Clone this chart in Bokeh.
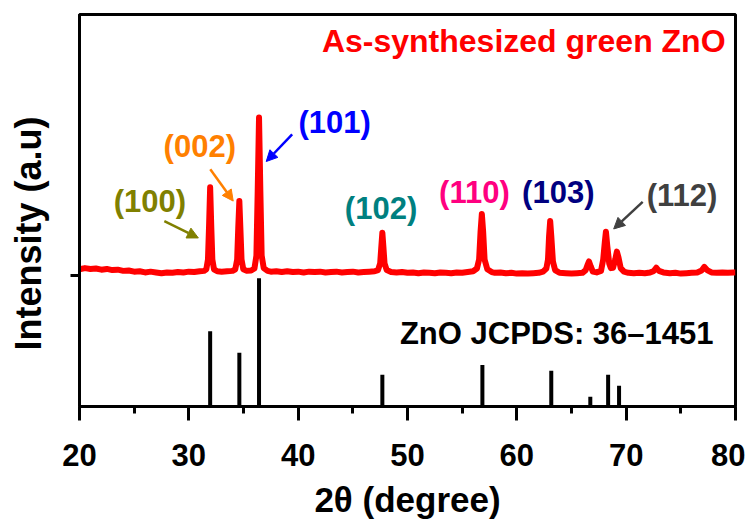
from bokeh.plotting import figure
from bokeh.models import Range1d, FixedTicker, Label, Arrow, NormalHead, Title, LinearAxis
from bokeh.embed import file_html
from bokeh.resources import INLINE

# ---- data ----
# measured pattern of the as-synthesized sample (2theta in degrees, intensity in a.u.)
xrd_x = [20.0, 20.5, 21.0, 21.5, 22.0, 22.5, 23.0, 23.5, 24.0, 24.5, 25.0, 25.5, 26.0, 26.5,
         27.0, 27.5, 28.0, 28.5, 29.0, 29.5, 30.0, 30.5, 31.0, 31.4,
         31.6, 31.75, 31.85, 31.95, 32.05, 32.15, 32.3, 32.6, 33.0, 33.5, 34.0,
         34.25, 34.42, 34.52, 34.62, 34.72, 34.82, 34.98, 35.3, 35.7,
         36.0, 36.18, 36.3, 36.42, 36.54, 36.66, 36.85, 37.2, 37.5, 38.0,
         38.5, 39.0, 39.5, 40.0, 40.5, 41.0, 41.5, 42.0, 42.5, 43.0, 43.5, 44.0, 44.5, 45.0,
         45.5, 46.0, 46.5, 47.0, 47.3,
         47.5, 47.6, 47.7, 47.8, 47.9, 48.1, 48.5,
         49.0, 49.5, 50.0, 50.5, 51.0, 51.5, 52.0, 52.5, 53.0, 53.5, 54.0, 54.5, 55.0, 55.5,
         56.0, 56.35,
         56.55, 56.68, 56.8, 56.92, 57.05, 57.3, 57.7,
         58.0, 58.5, 59.0, 59.5, 60.0, 60.5, 61.0, 61.5, 62.0, 62.4, 62.7,
         62.85, 62.95, 63.05, 63.15, 63.3, 63.5, 63.9,
         64.5, 65.0, 65.5, 66.0, 66.3,
         66.45, 66.6, 66.75, 66.95, 67.3, 67.7, 67.9,
         68.05, 68.15, 68.27, 68.45, 68.6, 68.8, 69.0, 69.15, 69.3, 69.5, 69.8,
         70.2, 70.7, 71.2, 71.7, 72.2, 72.5, 72.75, 73.0, 73.4,
         74.0, 74.5, 75.0, 75.5, 76.0, 76.5, 76.9, 77.15, 77.4, 77.8,
         78.3, 78.8, 79.3, 79.8, 80.0]
xrd_y = [35.0, 35.3, 35.1, 35.2, 34.9, 35.1, 34.8, 34.9, 34.6, 34.7, 34.4, 34.5, 34.2, 34.4,
         34.2, 34.0, 34.2, 34.1, 34.3, 34.2, 34.4, 34.3, 34.5, 34.6,
         35.0, 37.5, 46.0, 55.9, 46.0, 37.5, 35.0, 34.5, 34.4, 34.5, 34.6,
         35.0, 37.5, 45.5, 52.4, 45.0, 37.5, 35.0, 34.6, 34.7,
         35.2, 38.5, 55.0, 73.7, 55.0, 38.5, 35.3, 34.6, 34.4, 34.5,
         34.3, 34.5, 34.3, 34.4, 34.2, 34.4, 34.3, 34.4, 34.2, 34.3, 34.4, 34.2, 34.3, 34.4,
         34.2, 34.3, 34.4, 34.5, 34.8,
         36.5, 40.5, 44.3, 40.5, 36.5, 34.8, 34.3,
         34.2, 34.3, 34.1, 34.2, 34.0, 34.2, 34.1, 34.0, 34.2, 34.1, 34.0, 34.2, 34.1, 34.3,
         34.5, 35.2,
         37.5, 44.5, 49.1, 44.5, 37.5, 35.0, 34.3,
         34.1, 34.2, 34.0, 34.1, 33.9, 34.0, 33.9, 34.0, 34.1, 34.4, 35.2,
         37.5, 43.5, 47.3, 43.5, 37.0, 34.8, 34.1,
         34.0, 33.9, 34.0, 34.1, 34.8,
         36.0, 37.0, 35.8, 34.4, 34.2, 34.6, 37.5,
         42.0, 44.6, 41.0, 36.5, 35.3, 35.4, 37.5, 39.5, 38.0, 35.3, 34.4,
         34.1, 34.0, 34.1, 34.0, 34.2, 34.5, 35.4, 34.6, 34.2,
         34.0, 34.1, 33.9, 34.0, 34.1, 34.2, 34.7, 35.6, 34.8, 34.2,
         34.1, 34.2, 34.1, 34.2, 34.2]

# reference lines, ZnO JCPDS 36-1451
ref_pos = [31.95, 34.62, 36.42, 47.7, 56.85, 63.15, 66.72, 68.35, 69.35]
ref_int = [19.2, 13.7, 32.7, 8.1, 10.6, 9.1, 2.5, 8.1, 5.3]

x_ticks = [20, 30, 40, 50, 60, 70, 80]
x_minor = [25, 35, 45, 55, 65, 75]
baseline_tick = [33.4]

peak_labels = ["(100)", "(002)", "(101)", "(102)", "(110)", "(103)", "(112)"]
peak_colors = ["#808000", "#FF8000", "#0000FF", "#008080", "#FF0080", "#000080", "#404040"]

FONT = "Liberation Sans"

p = figure(width=745, height=521, output_backend="svg", toolbar_location=None,
           x_range=Range1d(20, 80), y_range=Range1d(0, 100),
           min_border_left=78, min_border_right=10, min_border_top=14, min_border_bottom=112)
p.background_fill_color = "white"
p.border_fill_color = "white"
p.xgrid.visible = False
p.ygrid.visible = False
p.outline_line_color = "black"
p.outline_line_width = 3
p.outline_line_alpha = 1

# red pattern
p.line(xrd_x, xrd_y, line_color="#FF0000", line_width=6, line_join="round")
# reference bars
p.segment(x0=ref_pos, y0=[0] * len(ref_pos), x1=ref_pos, y1=ref_int,
          line_color="black", line_width=4, line_cap="butt")

# axes
xa = p.xaxis[0]
xa.ticker = FixedTicker(ticks=x_ticks, minor_ticks=x_minor)
xa.axis_line_width = 3
xa.major_tick_line_width = 3
xa.minor_tick_line_width = 3
xa.major_tick_out = 14
xa.major_tick_in = 0
xa.minor_tick_out = 7
xa.minor_tick_in = 0
xa.major_label_text_font = FONT
xa.major_label_text_font_style = "bold"
xa.major_label_text_font_size = "31px"
xa.major_label_text_color = "black"
xa.major_label_standoff = 23
xa.axis_label = "2\u03b8 (degree)"
xa.axis_label_text_font = FONT
xa.axis_label_text_font_style = "bold"
xa.axis_label_text_font_size = "35px"
xa.axis_label_text_color = "black"
xa.axis_label_standoff = 11

ya = p.yaxis[0]
ya.ticker = FixedTicker(ticks=baseline_tick, minor_ticks=[])
ya.axis_line_width = 3
ya.major_tick_line_width = 3
ya.major_tick_out = 9
ya.major_tick_in = 0
ya.minor_tick_out = 0
ya.minor_tick_in = 0
ya.major_label_overrides = {33.4: ""}
ya.major_label_standoff = 0

# blank spacer axis: keeps the y title at the original's distance from the frame
spacer = LinearAxis(ticker=FixedTicker(ticks=baseline_tick, minor_ticks=[]),
                    axis_line_color=None, major_tick_line_color=None,
                    minor_tick_line_color=None, major_tick_out=17, major_tick_in=0,
                    minor_tick_out=0, minor_tick_in=0, major_label_standoff=0,
                    major_label_overrides={33.4: ""})
p.add_layout(spacer, "left")

# y-axis title (placed slightly below the frame centre, as in the original)
p.add_layout(Title(text="Intensity (a.u)", align="left", offset=56, standoff=10,
                   text_color="black", text_font=FONT, text_font_style="bold",
                   text_font_size="36px"), "left")

# peak labels
label_x = [26.44, 31.0, 43.33, 47.58, 56.12, 63.79, 75.11]
label_y = [52.2, 66.3, 72.4, 50.6, 54.7, 54.7, 53.9]
for t, c, lx, ly in zip(peak_labels, peak_colors, label_x, label_y):
    p.add_layout(Label(x=lx, y=ly, text=t, text_color=c, text_font=FONT,
                       text_font_style="bold", text_font_size="31px",
                       text_align="center", text_baseline="middle"))

# arrows
arrows = [("#808000", 27.76, 47.3, 30.87, 43.0),
          ("#FF8000", 31.96, 60.5, 34.06, 52.4),
          ("#0000FF", 39.45, 69.4, 37.08, 62.5),
          ("#404040", 71.51, 52.2, 68.86, 45.3)]
for c, xs, ys, xe, ye in arrows:
    p.add_layout(Arrow(end=NormalHead(size=11, fill_color=c, line_color=c, line_width=1),
                       x_start=xs, y_start=ys, x_end=xe, y_end=ye,
                       line_color=c, line_width=2.5))

p.add_layout(Label(x=79.09, y=93.2, text="As-synthesized green ZnO", text_color="#FF0000",
                   text_font=FONT, text_font_style="bold", text_font_size="32px",
                   text_align="right", text_baseline="middle"))
p.add_layout(Label(x=77.99, y=18.7, text="ZnO JCPDS: 36\u20131451", text_color="black",
                   text_font=FONT, text_font_style="bold", text_font_size="31px",
                   text_align="right", text_baseline="middle"))

open("out.html", "w").write(file_html(p, INLINE))
